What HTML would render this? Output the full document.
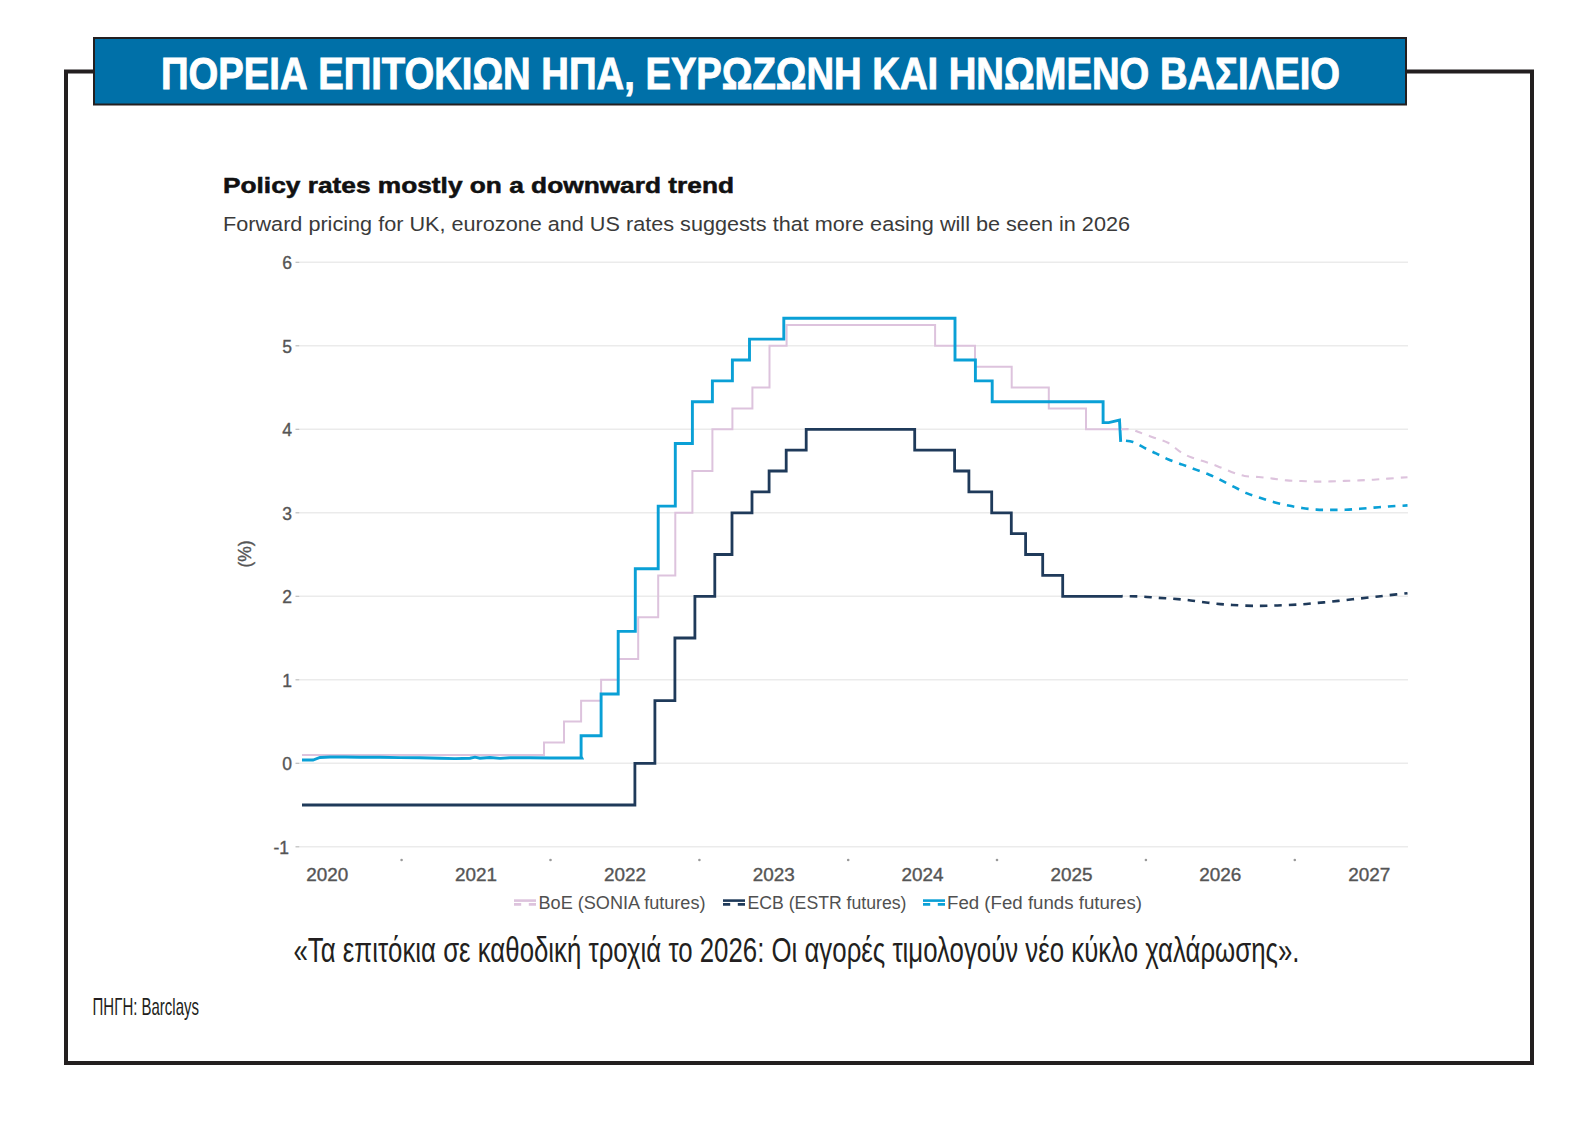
<!DOCTYPE html>
<html><head><meta charset="utf-8"><style>
html,body{margin:0;padding:0;background:#fff;}
body{width:1593px;height:1138px;overflow:hidden;position:relative;}
svg{position:absolute;left:0;top:0;}
text{font-family:"Liberation Sans",sans-serif;}
.ax{font-size:17.5px;fill:#555555;stroke:#555555;stroke-width:0.35px;}
.lg{font-size:17.5px;fill:#505050;}
.ct{font-size:21.5px;font-weight:bold;fill:#111;stroke:#111;stroke-width:0.5px;}
.cs{font-size:20.5px;fill:#3a3a3a;}
.tt{font-size:44px;font-weight:bold;fill:#fff;stroke:#fff;stroke-width:0.9px;}
.cap{font-size:35.5px;fill:#231f20;}
.src{font-size:24px;fill:#231f20;}
</style></head><body>
<svg width="1593" height="1138" viewBox="0 0 1593 1138">
<path d="M93 71.5 L66 71.5 L66 1063 L1532 1063 L1532 71.5 L1407 71.5" fill="none" stroke="#231f20" stroke-width="4"/>
<rect x="94" y="38" width="1312" height="66.5" fill="#0070a8" stroke="#231f20" stroke-width="2"/>
<text x="161" y="89.2" class="tt" textLength="1179" lengthAdjust="spacingAndGlyphs">ΠΟΡΕΙΑ ΕΠΙΤΟΚΙΩΝ ΗΠΑ, ΕΥΡΩΖΩΝΗ ΚΑΙ ΗΝΩΜΕΝΟ ΒΑΣΙΛΕΙΟ</text>
<text x="293.5" y="962" class="cap" textLength="1006" lengthAdjust="spacingAndGlyphs">«Τα επιτόκια σε καθοδική τροχιά το 2026: Οι αγορές τιμολογούν νέο κύκλο χαλάρωσης».</text>
<text x="92.5" y="1015.2" class="src" textLength="106.5" lengthAdjust="spacingAndGlyphs">ΠΗΓΗ: Barclays</text>
<line x1="300" y1="846.8" x2="1408" y2="846.8" stroke="#ebebeb" stroke-width="1.5"/>
<line x1="295.5" y1="846.8" x2="299.5" y2="846.8" stroke="#bbbbbb" stroke-width="1.2"/>
<text x="289" y="853.8" text-anchor="end" class="ax">-1</text>
<line x1="300" y1="763.3" x2="1408" y2="763.3" stroke="#ebebeb" stroke-width="1.5"/>
<line x1="295.5" y1="763.3" x2="299.5" y2="763.3" stroke="#bbbbbb" stroke-width="1.2"/>
<text x="292" y="770.3" text-anchor="end" class="ax">0</text>
<line x1="300" y1="679.8" x2="1408" y2="679.8" stroke="#ebebeb" stroke-width="1.5"/>
<line x1="295.5" y1="679.8" x2="299.5" y2="679.8" stroke="#bbbbbb" stroke-width="1.2"/>
<text x="292" y="686.8" text-anchor="end" class="ax">1</text>
<line x1="300" y1="596.3" x2="1408" y2="596.3" stroke="#ebebeb" stroke-width="1.5"/>
<line x1="295.5" y1="596.3" x2="299.5" y2="596.3" stroke="#bbbbbb" stroke-width="1.2"/>
<text x="292" y="603.3" text-anchor="end" class="ax">2</text>
<line x1="300" y1="512.8" x2="1408" y2="512.8" stroke="#ebebeb" stroke-width="1.5"/>
<line x1="295.5" y1="512.8" x2="299.5" y2="512.8" stroke="#bbbbbb" stroke-width="1.2"/>
<text x="292" y="519.8" text-anchor="end" class="ax">3</text>
<line x1="300" y1="429.3" x2="1408" y2="429.3" stroke="#ebebeb" stroke-width="1.5"/>
<line x1="295.5" y1="429.3" x2="299.5" y2="429.3" stroke="#bbbbbb" stroke-width="1.2"/>
<text x="292" y="436.3" text-anchor="end" class="ax">4</text>
<line x1="300" y1="345.8" x2="1408" y2="345.8" stroke="#ebebeb" stroke-width="1.5"/>
<line x1="295.5" y1="345.8" x2="299.5" y2="345.8" stroke="#bbbbbb" stroke-width="1.2"/>
<text x="292" y="352.8" text-anchor="end" class="ax">5</text>
<line x1="300" y1="262.3" x2="1408" y2="262.3" stroke="#ebebeb" stroke-width="1.5"/>
<line x1="295.5" y1="262.3" x2="299.5" y2="262.3" stroke="#bbbbbb" stroke-width="1.2"/>
<text x="292" y="269.3" text-anchor="end" class="ax">6</text>
<text x="306.2" y="880.5" class="ax" textLength="42" lengthAdjust="spacingAndGlyphs">2020</text>
<text x="455.1" y="880.5" class="ax" textLength="42" lengthAdjust="spacingAndGlyphs">2021</text>
<text x="603.9" y="880.5" class="ax" textLength="42" lengthAdjust="spacingAndGlyphs">2022</text>
<text x="752.8" y="880.5" class="ax" textLength="42" lengthAdjust="spacingAndGlyphs">2023</text>
<text x="901.6" y="880.5" class="ax" textLength="42" lengthAdjust="spacingAndGlyphs">2024</text>
<text x="1050.5" y="880.5" class="ax" textLength="42" lengthAdjust="spacingAndGlyphs">2025</text>
<text x="1199.3" y="880.5" class="ax" textLength="42" lengthAdjust="spacingAndGlyphs">2026</text>
<text x="1348.2" y="880.5" class="ax" textLength="42" lengthAdjust="spacingAndGlyphs">2027</text>
<circle cx="401.6" cy="860" r="1.3" fill="#999"/>
<circle cx="550.5" cy="860" r="1.3" fill="#999"/>
<circle cx="699.4" cy="860" r="1.3" fill="#999"/>
<circle cx="848.2" cy="860" r="1.3" fill="#999"/>
<circle cx="997.0" cy="860" r="1.3" fill="#999"/>
<circle cx="1145.9" cy="860" r="1.3" fill="#999"/>
<circle cx="1294.8" cy="860" r="1.3" fill="#999"/>
<text transform="translate(251,554) rotate(-90)" text-anchor="middle" class="ax">(%)</text>
<path d="M302.0 754.9 L544.0 754.9 L544.0 742.4 L564.0 742.4 L564.0 721.5 L581.1 721.5 L581.1 700.7 L601.1 700.7 L601.1 679.8 L618.2 679.8 L618.2 658.9 L638.2 658.9 L638.2 617.2 L658.2 617.2 L658.2 575.4 L675.3 575.4 L675.3 512.8 L692.4 512.8 L692.4 471.0 L712.4 471.0 L712.4 429.3 L732.4 429.3 L732.4 408.4 L752.4 408.4 L752.4 387.5 L769.5 387.5 L769.5 345.8 L786.6 345.8 L786.6 324.9 L935.1 324.9 L935.1 345.8 L975.0 345.8 L975.0 366.7 L1011.7 366.7 L1011.7 387.5 L1048.8 387.5 L1048.8 408.4 L1086.0 408.4 L1086.0 429.3 L1122.4 429.3" fill="none" stroke="#ddc3dd" stroke-width="2"/>
<path d="M302.0 805.0 L634.9 805.0 L634.9 763.3 L654.9 763.3 L654.9 700.7 L674.9 700.7 L674.9 638.0 L694.9 638.0 L694.9 596.3 L714.8 596.3 L714.8 554.5 L732.0 554.5 L732.0 512.8 L752.0 512.8 L752.0 491.9 L769.1 491.9 L769.1 471.0 L786.2 471.0 L786.2 450.2 L806.2 450.2 L806.2 429.3 L914.7 429.3 L914.7 450.2 L954.6 450.2 L954.6 471.0 L968.9 471.0 L968.9 491.9 L991.7 491.9 L991.7 512.8 L1011.3 512.8 L1011.3 533.7 L1025.6 533.7 L1025.6 554.5 L1042.7 554.5 L1042.7 575.4 L1062.7 575.4 L1062.7 596.3 L1122.4 596.3" fill="none" stroke="#1f3a5a" stroke-width="2.8"/>
<path d="M302.0 760.0 L313.0 760.0 L320.0 757.5 L330.0 757.0 L345.0 757.0 L360.0 757.2 L380.0 757.2 L400.0 757.6 L420.0 757.8 L440.0 758.3 L455.0 758.6 L470.0 758.2 L475.0 757.2 L480.0 758.2 L490.0 757.5 L500.0 758.4 L510.0 757.8 L530.0 757.8 L550.0 758.0 L581.8 758.0 L581.1 756.6 L581.1 735.7 L601.1 735.7 L601.1 694.0 L618.2 694.0 L618.2 631.4 L635.3 631.4 L635.3 568.7 L658.2 568.7 L658.2 506.1 L675.3 506.1 L675.3 443.5 L692.4 443.5 L692.4 401.7 L712.4 401.7 L712.4 380.9 L732.4 380.9 L732.4 360.0 L749.5 360.0 L749.5 339.1 L783.8 339.1 L783.8 318.2 L955.0 318.2 L955.0 360.0 L975.4 360.0 L975.4 380.9 L992.2 380.9 L992.2 401.7 L1103.1 401.7 L1103.1 422.6 L1108.7 422.6 L1119.5 420.1 L1120.7 441.8" fill="none" stroke="#0aa0d6" stroke-width="2.9" stroke-linejoin="miter"/>
<path d="M1121.0 429.3 C1122.7 429.3 1127.8 428.8 1131.0 429.4 C1134.2 429.9 1136.2 431.2 1140.0 432.6 C1143.8 434.0 1149.3 436.0 1154.0 437.7 C1158.7 439.4 1163.5 440.3 1168.0 442.7 C1172.5 445.1 1177.0 449.8 1180.8 452.2 C1184.6 454.6 1187.1 455.7 1191.1 457.3 C1195.0 458.9 1200.0 460.1 1204.5 461.6 C1209.0 463.1 1213.5 464.7 1218.0 466.4 C1222.5 468.1 1227.0 470.3 1231.4 471.9 C1235.8 473.5 1240.0 475.1 1244.5 476.0 C1249.0 476.9 1254.0 476.6 1258.7 477.0 C1263.4 477.4 1267.9 478.0 1272.6 478.6 C1277.3 479.2 1282.0 480.0 1286.8 480.4 C1291.6 480.8 1296.4 480.8 1301.3 481.0 C1306.2 481.2 1311.1 481.5 1316.0 481.6 C1320.9 481.7 1325.9 481.5 1330.7 481.4 C1335.5 481.3 1339.8 481.1 1344.6 480.9 C1349.4 480.7 1354.5 480.6 1359.3 480.4 C1364.1 480.2 1368.8 480.0 1373.6 479.7 C1378.4 479.4 1382.2 479.0 1387.9 478.6 C1393.6 478.2 1404.2 477.4 1407.5 477.2" fill="none" stroke="#ddc3dd" stroke-width="2.1" stroke-dasharray="7.5 7"/>
<path d="M1121.8 596.0 C1123.0 596.0 1125.6 596.1 1129.3 596.2 C1133.0 596.3 1139.1 596.4 1143.9 596.7 C1148.7 597.0 1153.2 597.5 1158.0 597.8 C1162.8 598.1 1167.8 598.4 1172.6 598.7 C1177.4 599.1 1182.0 599.4 1186.7 599.9 C1191.4 600.4 1196.1 601.2 1200.9 601.8 C1205.7 602.4 1210.7 603.1 1215.5 603.6 C1220.3 604.1 1224.8 604.5 1229.6 604.8 C1234.4 605.1 1239.1 605.4 1244.2 605.6 C1249.3 605.8 1255.2 605.9 1260.0 605.9 C1264.8 605.9 1268.6 605.8 1273.2 605.6 C1277.8 605.5 1282.9 605.2 1287.8 605.0 C1292.7 604.8 1297.6 604.6 1302.4 604.3 C1307.2 604.0 1311.7 603.4 1316.5 603.0 C1321.3 602.6 1326.3 602.2 1331.1 601.7 C1335.9 601.2 1340.4 600.6 1345.2 600.1 C1350.0 599.6 1355.0 599.0 1359.8 598.5 C1364.6 598.0 1369.2 597.5 1373.9 597.0 C1378.6 596.5 1382.5 595.9 1388.1 595.3 C1393.7 594.7 1404.3 593.6 1407.5 593.2" fill="none" stroke="#1f3a5a" stroke-width="2.6" stroke-dasharray="7.5 7" stroke-dashoffset="-8"/>
<path d="M1121.0 440.3 C1123.0 440.6 1129.2 440.8 1133.0 442.0 C1136.8 443.2 1140.2 445.8 1144.0 447.7 C1147.8 449.6 1151.9 451.4 1156.0 453.4 C1160.1 455.4 1164.1 457.6 1168.5 459.5 C1172.9 461.4 1177.9 462.9 1182.4 464.6 C1187.0 466.3 1191.3 467.9 1195.8 469.6 C1200.3 471.3 1204.9 472.9 1209.3 474.7 C1213.7 476.5 1217.7 478.5 1221.9 480.6 C1226.1 482.7 1230.4 485.1 1234.6 487.2 C1238.8 489.3 1243.0 491.6 1247.2 493.4 C1251.4 495.2 1255.4 496.3 1259.9 497.8 C1264.4 499.3 1269.3 500.9 1274.1 502.2 C1278.8 503.5 1283.8 504.6 1288.4 505.6 C1293.1 506.6 1297.3 507.3 1302.0 508.0 C1306.7 508.7 1311.6 509.3 1316.4 509.6 C1321.2 509.9 1326.2 509.9 1331.0 509.9 C1335.8 509.9 1340.6 510.0 1345.4 509.8 C1350.2 509.6 1354.9 509.2 1359.7 508.8 C1364.5 508.4 1369.2 508.0 1374.0 507.6 C1378.8 507.2 1382.7 506.9 1388.3 506.5 C1393.9 506.1 1404.3 505.6 1407.5 505.4" fill="none" stroke="#0aa0d6" stroke-width="2.6" stroke-dasharray="7.5 7" stroke-dashoffset="-5"/>
<line x1="514" y1="900.6" x2="536" y2="900.6" stroke="#ddc3dd" stroke-width="2.6"/><line x1="514" y1="904.4" x2="536" y2="904.4" stroke="#ddc3dd" stroke-width="2.6" stroke-dasharray="7.2 7.6 7.2"/>
<text x="538.5" y="908.8" class="lg" textLength="167" lengthAdjust="spacingAndGlyphs">BoE (SONIA futures)</text>
<line x1="723" y1="900.6" x2="745" y2="900.6" stroke="#1f3a5a" stroke-width="2.6"/><line x1="723" y1="904.4" x2="745" y2="904.4" stroke="#1f3a5a" stroke-width="2.6" stroke-dasharray="7.2 7.6 7.2"/>
<text x="747.5" y="908.8" class="lg" textLength="159" lengthAdjust="spacingAndGlyphs">ECB (ESTR futures)</text>
<line x1="923" y1="900.6" x2="945" y2="900.6" stroke="#0aa0d6" stroke-width="2.6"/><line x1="923" y1="904.4" x2="945" y2="904.4" stroke="#0aa0d6" stroke-width="2.6" stroke-dasharray="7.2 7.6 7.2"/>
<text x="947" y="908.8" class="lg" textLength="195" lengthAdjust="spacingAndGlyphs">Fed (Fed funds futures)</text>
<text x="223" y="193" class="ct" textLength="511" lengthAdjust="spacingAndGlyphs">Policy rates mostly on a downward trend</text>
<text x="223" y="230.6" class="cs" textLength="907" lengthAdjust="spacingAndGlyphs">Forward pricing for UK, eurozone and US rates suggests that more easing will be seen in 2026</text>
</svg>
</body></html>
